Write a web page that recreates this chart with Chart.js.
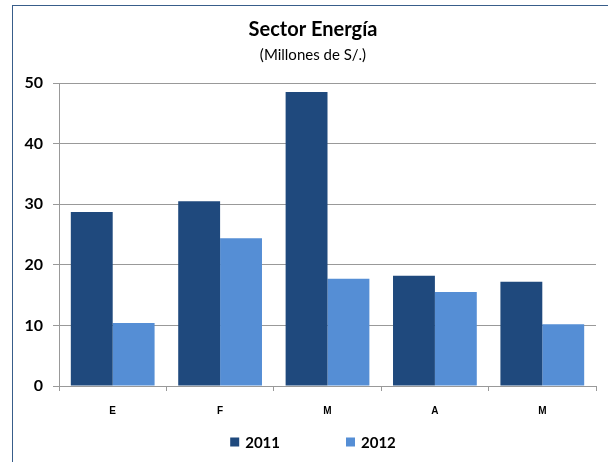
<!DOCTYPE html>
<html>
<head>
<meta charset="utf-8">
<script src="https://cdn.jsdelivr.net/npm/chart.js@4/dist/chart.umd.min.js"></script>
<style>
  html, body { margin: 0; padding: 0; background: #fff; overflow: hidden; }
  #wrap { position: relative; width: 608px; height: 462px; }
  #frame { position: absolute; left: 12px; top: 5px; width: 620px; height: 480px;
           border: 1.5px solid #385d8a; box-sizing: border-box; pointer-events: none; }
  canvas { position: absolute; left: 0; top: 0; }
</style>
</head>
<body>
<div id="wrap">
  <canvas id="c" width="608" height="462"></canvas>
  <div id="frame"></div>
</div>
<script>
const categories = ['E', 'F', 'M', 'A', 'M'];
const series2011 = [28.7, 30.5, 48.5, 18.2, 17.2];
const series2012 = [10.4, 24.4, 17.7, 15.5, 10.2];
const seriesNames = ['2011', '2012'];
const seriesColors = ['#1f497d', '#558ed5'];
const titleText = 'Sector Energía';
const subtitleText = '(Millones de S/.)';

const legendPlugin = {
  id: 'bottomLegend',
  afterDraw(chart) {
    const ctx = chart.ctx;
    const ds = chart.data.datasets;
    ctx.save();
    ctx.font = 'bold 15px Lato';
    ctx.textBaseline = 'middle';
    ctx.textAlign = 'left';
    const box = 9, gapText = 6, gapItem = 66;
    const widths = ds.map(d => box + gapText + ctx.measureText(d.label).width);
    const total = widths.reduce((a, b) => a + b, 0) + gapItem * (ds.length - 1);
    let x = 313 - total / 2;
    const cy = 442;
    ds.forEach((d, i) => {
      ctx.fillStyle = d.backgroundColor;
      ctx.fillRect(x, cy - box / 2, box, box);
      ctx.fillStyle = '#000';
      ctx.fillText(d.label, x + box + gapText, cy + 1);
      x += widths[i] + gapItem;
    });
    ctx.restore();
  }
};

// Centre the title blocks on the framed chart object (x = 12 .. 614)
const titleShift = {
  id: 'titleShift',
  afterLayout(chart) {
    chart.boxes.forEach(b => {
      if (b.position === 'top' && b.options && 'text' in b.options) {
        b.left = 30;
      }
    });
  }
};

new Chart(document.getElementById('c'), {
  type: 'bar',
  data: {
    labels: categories,
    datasets: [
      { label: seriesNames[0], data: series2011, backgroundColor: seriesColors[0] },
      { label: seriesNames[1], data: series2012, backgroundColor: seriesColors[1] }
    ]
  },
  options: {
    responsive: false,
    animation: false,
    devicePixelRatio: 1,
    categoryPercentage: 0.78,
    barPercentage: 1.0,
    layout: { padding: { left: 0, right: 12, top: 0, bottom: 35 } },
    plugins: {
      legend: { display: false },
      tooltip: { enabled: false },
      title: {
        display: true, text: titleText, color: '#000',
        font: { family: 'Lato', size: 20, weight: 'bold' },
        padding: { top: 18, bottom: 4 }
      },
      subtitle: {
        display: true, text: subtitleText, color: '#000',
        font: { family: 'Lato', size: 15, weight: 'normal' },
        padding: { top: 0, bottom: 19 }
      }
    },
    scales: {
      x: {
        grid: { display: true, drawOnChartArea: false, drawTicks: true, tickLength: 5, color: '#999' },
        border: { color: '#999' },
        ticks: { color: '#000', font: { family: 'Liberation Sans', size: 10, weight: 'bold' }, padding: 14 },
        afterFit(scale) { scale.height = 41; }
      },
      y: {
        min: 0, max: 50,
        grid: { color: '#999', tickLength: 6, lineWidth: 1 },
        border: { color: '#999' },
        ticks: { stepSize: 10, color: '#000', font: { family: 'Lato', size: 16, weight: 'bold' }, padding: 10 },
        afterFit(scale) { scale.width = 59; }
      }
    }
  },
  plugins: [legendPlugin, titleShift]
});
</script>
</body>
</html>
